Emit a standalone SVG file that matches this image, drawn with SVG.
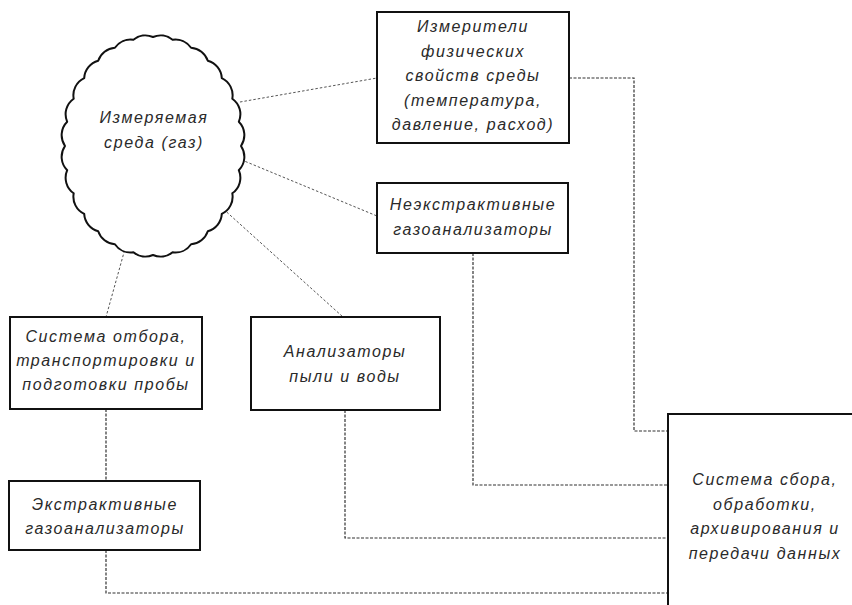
<svg xmlns="http://www.w3.org/2000/svg" width="852" height="605" viewBox="0 0 852 605">
<style>
.box{fill:#fff;stroke:#111;stroke-width:2}
.cloud{fill:#fff;stroke:#111;stroke-width:2;stroke-linejoin:round}
.t{font-family:"Liberation Sans","DejaVu Sans",sans-serif;font-style:italic;font-size:16px;letter-spacing:1.6px;fill:#2a2a2a;text-anchor:middle}
.c{fill:none;stroke:#333;stroke-width:1.2;stroke-dasharray:3 1.5}
.d{fill:none;stroke:#555;stroke-width:1;stroke-dasharray:2.5 2}
</style>
<rect width="852" height="605" fill="#fff"/>
<g id="connectors">
<line class="d" x1="240" y1="102" x2="377" y2="78"/>
<line class="d" x1="237" y1="158" x2="377" y2="216"/>
<line class="d" x1="210" y1="197" x2="343" y2="317"/>
<line class="d" x1="133" y1="220" x2="106" y2="317"/>
<polyline class="c" points="569,78 634,78 634,431 668,431"/>
<polyline class="c" points="473,253 473,485 668,485"/>
<polyline class="c" points="345,410 345,538 668,538"/>
<line class="c" x1="106" y1="409" x2="106" y2="481"/>
<polyline class="c" points="106,550 106,593 668,593"/>
</g>
<g id="cloud">
<path class="cloud" d="M241,146 A19,19 0 0 1 238.8,170.2 A19,19 0 0 1 232.3,193.3 A19,19 0 0 1 221.8,213.9 A19,19 0 0 1 207.8,231.2 A19,19 0 0 1 191.1,244.2 A19,19 0 0 1 172.6,252.3 A19,19 0 0 1 153,255 A19,19 0 0 1 133.4,252.3 A19,19 0 0 1 114.9,244.2 A19,19 0 0 1 98.2,231.2 A19,19 0 0 1 84.2,213.9 A19,19 0 0 1 73.7,193.3 A19,19 0 0 1 67.2,170.2 A19,19 0 0 1 65,146 A19,19 0 0 1 67.2,121.8 A19,19 0 0 1 73.7,98.7 A19,19 0 0 1 84.2,78.1 A19,19 0 0 1 98.2,60.8 A19,19 0 0 1 114.9,47.8 A19,19 0 0 1 133.4,39.7 A19,19 0 0 1 153,37 A19,19 0 0 1 172.6,39.7 A19,19 0 0 1 191.1,47.8 A19,19 0 0 1 207.8,60.8 A19,19 0 0 1 221.8,78.1 A19,19 0 0 1 232.3,98.7 A19,19 0 0 1 238.8,121.8 A19,19 0 0 1 241,146 Z"/>
<text class="t" x="154" y="123">Измеряемая</text>
<text class="t" x="154" y="148">среда (газ)</text>
</g>
<g id="meters">
<rect class="box" x="377" y="12" width="192" height="131"/>
<text class="t" x="473" y="32">Измерители</text>
<text class="t" x="473" y="56.5">физических</text>
<text class="t" x="473" y="81">свойств среды</text>
<text class="t" x="473" y="105.5">(температура,</text>
<text class="t" x="473" y="130">давление, расход)</text>
</g>
<g id="nonextractive">
<rect class="box" x="377" y="183" width="191" height="70"/>
<text class="t" x="473" y="210">Неэкстрактивные</text>
<text class="t" x="473" y="235">газоанализаторы</text>
</g>
<g id="sampling">
<rect class="box" x="10" y="317" width="192" height="92"/>
<text class="t" x="106" y="342">Система отбора,</text>
<text class="t" x="106" y="366">транспортировки и</text>
<text class="t" x="106" y="390">подготовки пробы</text>
</g>
<g id="dust">
<rect class="box" x="251" y="317" width="189" height="93"/>
<text class="t" x="345" y="357">Анализаторы</text>
<text class="t" x="345" y="382">пыли и воды</text>
</g>
<g id="extractive">
<rect class="box" x="9" y="481" width="191" height="69"/>
<text class="t" x="105" y="510">Экстрактивные</text>
<text class="t" x="105" y="534">газоанализаторы</text>
</g>
<g id="dataSystem">
<rect class="box" x="668" y="414" width="200" height="200"/>
<text class="t" x="765" y="485">Система сбора,</text>
<text class="t" x="765" y="509.5">обработки,</text>
<text class="t" x="765" y="534">архивирования и</text>
<text class="t" x="765" y="558.5">передачи данных</text>
</g>
</svg>
